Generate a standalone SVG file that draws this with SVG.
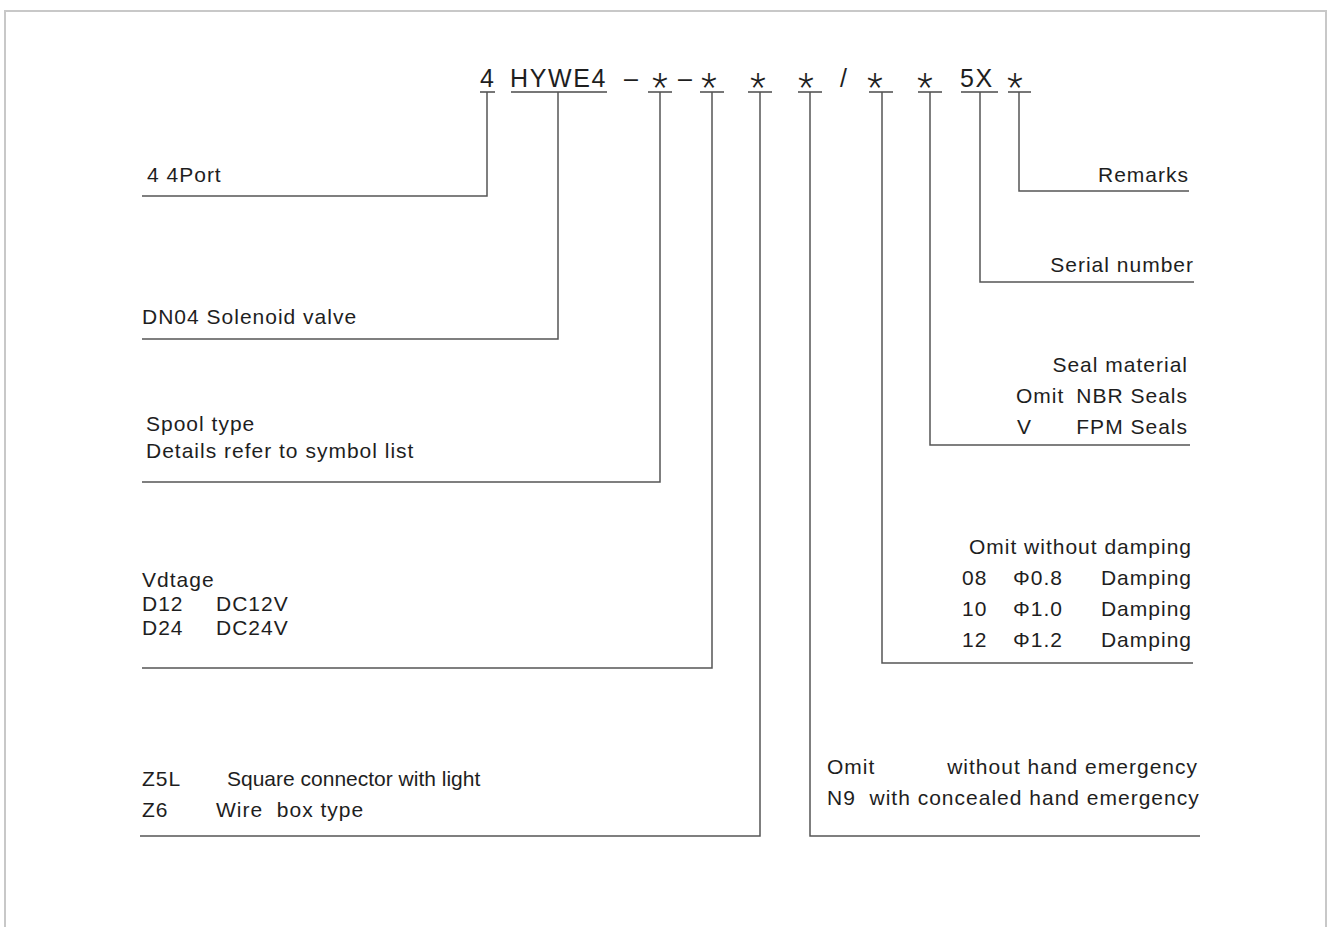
<svg xmlns="http://www.w3.org/2000/svg" width="1328" height="927" viewBox="0 0 1328 927">
<style>
  .t { font-family: "Liberation Sans", Arial, sans-serif; font-size: 21px; fill: #1e1e1e; letter-spacing: 1px; white-space: pre; }
  .ns { letter-spacing: 0; }
  .e { text-anchor: end; }
  .code { font-family: "Liberation Sans", Arial, sans-serif; font-size: 25px; fill: #1e1e1e; letter-spacing: 1.6px; }
  .ast { font-family: Roboto, "Liberation Sans", sans-serif; font-weight: 300; font-size: 36px; fill: #1e1e1e; text-anchor: middle; }
  .ln { stroke: #555; stroke-width: 1.5; fill: none; }
  .ul { stroke: #777; stroke-width: 2; fill: none; }
</style>
<rect width="1328" height="927" fill="#fff"/>
<path d="M5 927 V11 H1326 V927" stroke="#c8c8c8" stroke-width="2" fill="none"/>

<g id="code">
  <text class="code" x="480" y="87">4</text>
  <text class="code" x="510" y="87">HYWE4</text>
  <text class="code" x="624" y="87">–</text>
  <text class="ast" x="660" y="99">*</text>
  <text class="code" x="678" y="87">–</text>
  <text class="ast" x="709" y="99">*</text>
  <text class="ast" x="758" y="99">*</text>
  <text class="ast" x="806" y="99">*</text>
  <text class="code" x="840" y="87">/</text>
  <text class="ast" x="875" y="99">*</text>
  <text class="ast" x="925" y="99">*</text>
  <text class="code" x="960" y="87">5X</text>
  <text class="ast" x="1015" y="99">*</text>
  <path class="ul" d="M480 92H495 M511 92H607 M648 92H672 M700 92H724 M748 92H772 M798 92H822 M869 92H893 M918 92H942 M961 92H998 M1008 92H1031"/>
</g>

<g id="connectors">
  <path class="ln" d="M487 92V196H142"/>
  <path class="ln" d="M558 92V339H142"/>
  <path class="ln" d="M660 92V482H142"/>
  <path class="ln" d="M712 92V668H142"/>
  <path class="ln" d="M760 92V836H140"/>
  <path class="ln" d="M810 92V836H1200"/>
  <path class="ln" d="M882 92V663H1193"/>
  <path class="ln" d="M930 92V445H1190"/>
  <path class="ln" d="M980 92V282H1194"/>
  <path class="ln" d="M1019 92V191H1189"/>
</g>

<g id="n-port"><text class="t" x="147" y="182">4 4Port</text></g>
<g id="n-solenoid"><text class="t" x="142" y="324">DN04 Solenoid valve</text></g>
<g id="n-spool">
  <text class="t" x="146" y="431">Spool type</text>
  <text class="t" x="146" y="458">Details refer to symbol list</text>
</g>
<g id="n-voltage">
  <text class="t" x="142" y="587">Vdtage</text>
  <text class="t" x="142" y="611">D12</text><text class="t" x="216" y="611">DC12V</text>
  <text class="t" x="142" y="635">D24</text><text class="t" x="216" y="635">DC24V</text>
</g>
<g id="n-connector">
  <text class="t" x="142" y="786">Z5L</text><text class="t ns" x="227" y="786">Square connector with light</text>
  <text class="t" x="142" y="817">Z6</text><text class="t" x="216" y="817">Wire  box type</text>
</g>
<g id="n-emergency">
  <text class="t" x="827" y="774">Omit</text>
  <text class="t e" x="1198" y="774">without hand emergency</text>
  <text class="t" x="827" y="805">N9  with concealed hand emergency</text>
</g>
<g id="n-damping">
  <text class="t e" x="1192" y="554">Omit without damping</text>
  <text class="t" x="962" y="585">08</text><text class="t" x="1013" y="585">Φ0.8</text><text class="t e" x="1192" y="585">Damping</text>
  <text class="t" x="962" y="616">10</text><text class="t" x="1013" y="616">Φ1.0</text><text class="t e" x="1192" y="616">Damping</text>
  <text class="t" x="962" y="647">12</text><text class="t" x="1013" y="647">Φ1.2</text><text class="t e" x="1192" y="647">Damping</text>
</g>
<g id="n-seal">
  <text class="t e" x="1188" y="372">Seal material</text>
  <text class="t" x="1016" y="403">Omit</text><text class="t e" x="1188" y="403">NBR Seals</text>
  <text class="t" x="1017" y="434">V</text><text class="t e" x="1188" y="434">FPM Seals</text>
</g>
<g id="n-serial"><text class="t e" x="1194" y="272">Serial number</text></g>
<g id="n-remarks"><text class="t e" x="1189" y="182">Remarks</text></g>
</svg>
